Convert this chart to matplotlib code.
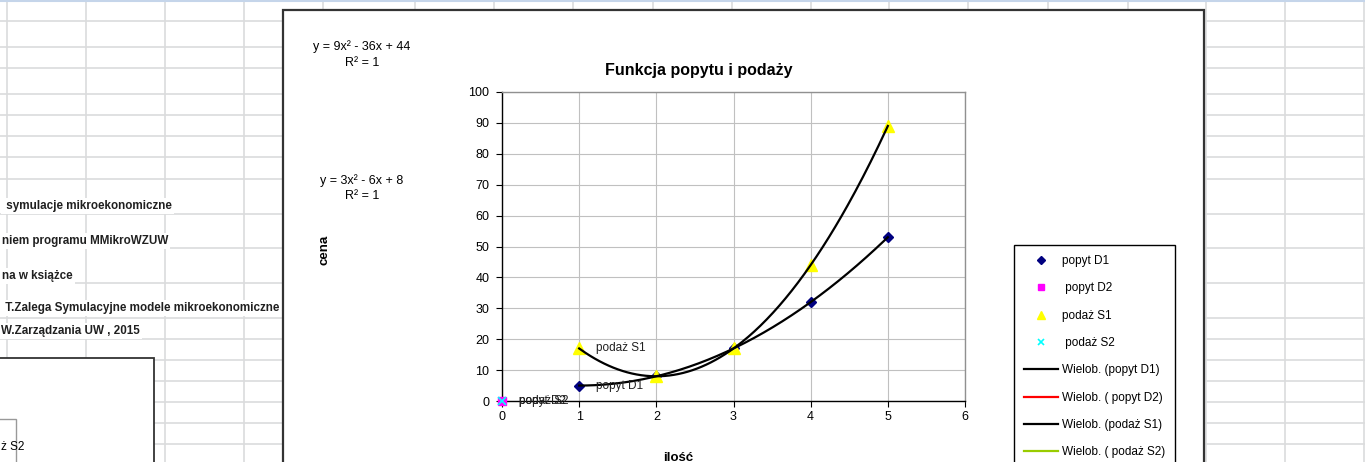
import numpy as np
import matplotlib
matplotlib.use("Agg")
import matplotlib.pyplot as plt
from matplotlib.patches import Rectangle

plt.rcParams["font.family"] = ["Liberation Sans", "DejaVu Sans"]

W, H = 1365, 462

# chart data
qty = [1, 2, 3, 4, 5]
demand_d1 = [5, 8, 17, 32, 53]
supply_s1 = [17, 8, 17, 44, 89]
qty_zero = [0]
demand_d2 = [0]
supply_s2 = [0]

series_names = ["popyt D1", " popyt D2", "podaż S1", " podaż S2"]
trend_names = ["Wielob. (popyt D1)", "Wielob. ( popyt D2)",
               "Wielob. (podaż S1)", "Wielob. ( podaż S2)"]
x_ticks = [0, 1, 2, 3, 4, 5, 6]
y_ticks = list(range(0, 101, 10))

chart_title = "Funkcja popytu i podaży"
x_label = "ilość"
y_label = "cena"

sheet_texts = [
    " symulacje mikroekonomiczne",
    "niem programu MMikroWZUW",
    "na w książce",
    " T.Zalega Symulacyjne modele mikroekonomiczne",
    "W.Zarządzania UW , 2015",
]

# spreadsheet layout (pixels)
col_x = [7, 86, 165, 244, 323, 415, 494, 573, 653, 732, 811, 889, 968,
         1048, 1128, 1206, 1285, 1364]
row_y = [21, 47, 68, 94, 115, 136, 157, 179, 214, 248, 283, 318, 339, 360,
         381, 402, 423, 444]
text_pos = [(3, 206), (2, 241), (2, 276), (2, 308), (1, 331)]


def equation(coefs):
    a, b, c = [int(round(v)) for v in coefs]
    s = f"y = {a}x²"
    s += f" - {abs(b)}x" if b < 0 else f" + {b}x"
    s += f" - {abs(c)}" if c < 0 else f" + {c}"
    return s


fig = plt.figure(figsize=(W / 100, H / 100), dpi=100)
bg = fig.add_axes([0, 0, 1, 1])
bg.set_xlim(0, W)
bg.set_ylim(H, 0)
bg.axis("off")

grid_c = "#dadcdd"
bg.vlines(col_x, 0, H, color=grid_c, lw=1.2, zorder=1)
bg.hlines(row_y, 0, W, color=grid_c, lw=1.2, zorder=1)
bg.hlines(0.6, 0, W, color="#c5d5ea", lw=1.5, zorder=1)

for (tx, ty), s in zip(text_pos, sheet_texts):
    bg.text(tx, ty, s, fontsize=8.4, fontweight="bold", color="#202020",
            ha="left", va="center", zorder=2,
            bbox=dict(fc="white", ec="none", pad=1.5))

# second (cut) chart in bottom-left corner
bg.add_patch(Rectangle((-3, 358), 157, 120, fc="white", ec="#333333", lw=1.3, zorder=3))
bg.add_patch(Rectangle((-3, 419), 19, 60, fc="white", ec="#999999", lw=1.0, zorder=3))
bg.text(1, 447, "ż S2", fontsize=8.5, ha="left", va="center", zorder=4)

# main chart frame
bg.add_patch(Rectangle((283, 10), 921, 470, fc="white", ec="#333333", lw=1.6, zorder=3))

coef_d1 = np.polyfit(qty, demand_d1, 2)
coef_s1 = np.polyfit(qty, supply_s1, 2)

bg.text(699, 70, chart_title, fontsize=11.5, fontweight="bold", ha="center", va="center", zorder=4)
bg.text(362, 47, equation(coef_s1), fontsize=9, ha="center", va="center", zorder=4)
bg.text(362, 63, "R² = 1", fontsize=9, ha="center", va="center", zorder=4)
bg.text(362, 181, equation(coef_d1), fontsize=9, ha="center", va="center", zorder=4)
bg.text(362, 196, "R² = 1", fontsize=9, ha="center", va="center", zorder=4)
bg.text(325, 250, y_label, fontsize=9.5, fontweight="bold", rotation=90, ha="center", va="center", zorder=4)
bg.text(678, 452, x_label, fontsize=9.5, fontweight="bold", ha="center", va="top", zorder=4)

# plot area
left, right, top, bottom = 502, 965, 92, 401
ax = fig.add_axes([left / W, 1 - bottom / H, (right - left) / W, (bottom - top) / H])
ax.set_facecolor("white")
ax.set_xlim(0, 6)
ax.set_ylim(0, 100)
ax.set_xticks(x_ticks)
ax.set_yticks(y_ticks)
ax.grid(True, color="#c0c0c0", lw=0.8)
ax.set_axisbelow(True)
for side in ["left", "bottom"]:
    ax.spines[side].set_color("black")
    ax.spines[side].set_linewidth(1.0)
for side in ["top", "right"]:
    ax.spines[side].set_color("#909090")
    ax.spines[side].set_linewidth(1.0)
ax.tick_params(direction="out", length=4, width=0.8, labelsize=9)
ax.tick_params(axis="y", pad=5)

xs = np.linspace(min(qty), max(qty), 200)
h_d1, = ax.plot(qty, demand_d1, ls="none", marker="D", ms=5, color="#000080", zorder=3)
h_d2, = ax.plot(qty_zero, demand_d2, ls="none", marker="s", ms=6, color="#ff00ff", zorder=3, clip_on=False)
h_s1, = ax.plot(qty, supply_s1, ls="none", marker="^", ms=8, color="#ffff00", zorder=3)
h_s2, = ax.plot(qty_zero, supply_s2, ls="none", marker="x", ms=6, mew=1.2, color="#00ffff", zorder=3, clip_on=False)

t_d1, = ax.plot(xs, np.polyval(coef_d1, xs), color="black", lw=1.6, zorder=4)
t_d2, = ax.plot(qty_zero, demand_d2, color="red", lw=1.6, zorder=4)
t_s1, = ax.plot(xs, np.polyval(coef_s1, xs), color="black", lw=1.6, zorder=4)
t_s2, = ax.plot(qty_zero, supply_s2, color="#99cc00", lw=1.6, zorder=4)

label_pts = [(qty[0], demand_d1[0], "popyt D1"), (qty[0], supply_s1[0], "podaż S1"),
             (qty_zero[0], demand_d2[0], "popyt D2"), (qty_zero[0], supply_s2[0], "podaż S2")]
for px, py, s in label_pts:
    ax.annotate(s, (px, py), xytext=(12, 0), textcoords="offset points",
                fontsize=8.5, ha="left", va="center", color="#202020",
                annotation_clip=False, zorder=5)

handles = [h_d1, h_d2, h_s1, h_s2, t_d1, t_d2, t_s1, t_s2]
labels = series_names + trend_names
leg = fig.legend(handles, labels, loc="upper left",
                 bbox_to_anchor=(1014 / W, 1 - 245 / H), bbox_transform=fig.transFigure,
                 borderaxespad=0, fontsize=8.5, labelspacing=1.3, handlelength=2.9,
                 handletextpad=0.3, borderpad=0.85, numpoints=1, markerscale=0.75,
                 fancybox=False, framealpha=1, edgecolor="black")
leg.get_frame().set_linewidth(1.0)

fig.savefig("out.png", dpi=100)
